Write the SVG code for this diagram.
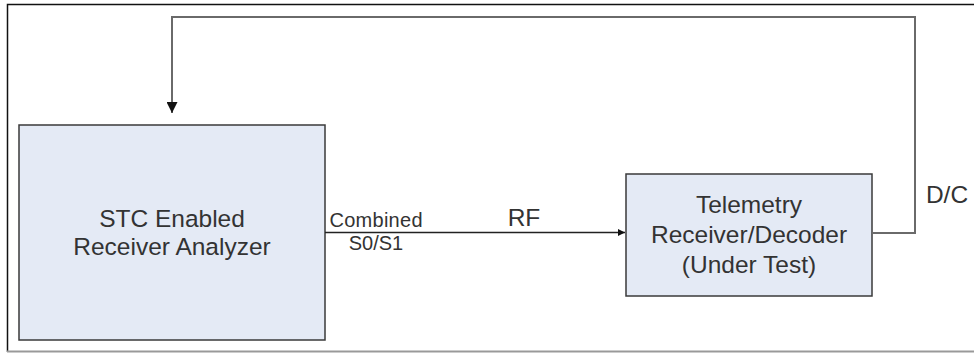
<svg xmlns="http://www.w3.org/2000/svg" width="974" height="353" viewBox="0 0 974 353">
<style>
.box{fill:#e4eaf5;stroke:#3a3a3a;stroke-width:1.5}
.t{font-family:"Liberation Sans",Arial,sans-serif;fill:#333;text-anchor:middle}
.big{font-size:24.5px}
.small{font-size:20px}
.con{fill:none;stroke:#222;stroke-width:1.5}
.loop{fill:none;stroke:#6a6a6a;stroke-width:2}
</style>
<defs>
<marker id="ah" viewBox="0 0 10 10" refX="10" refY="5" markerWidth="7" markerHeight="7" markerUnits="userSpaceOnUse" orient="auto">
<path d="M0,0 L10,5 L0,10 z" fill="#111"/>
</marker>
<marker id="ah2" viewBox="0 0 10 10" refX="10" refY="5" markerWidth="11" markerHeight="11" markerUnits="userSpaceOnUse" orient="auto">
<path d="M0,0 L10,5 L0,10 z" fill="#111"/>
</marker>
</defs>
<rect x="0" y="0" width="974" height="353" fill="#fff"/>
<path d="M7.5,352 V4.5 H980" fill="none" stroke="#111" stroke-width="1.5"/>
<line x1="7" y1="351.5" x2="974" y2="351.5" stroke="#999" stroke-width="2"/>
<g id="analyzer">
<rect class="box" x="19" y="125" width="306" height="215"/>
<text class="t big" x="172" y="227">STC Enabled</text>
<text class="t big" x="172" y="255">Receiver Analyzer</text>
</g>
<g id="telemetry">
<rect class="box" x="626" y="174" width="246" height="122"/>
<text class="t big" x="749" y="213">Telemetry</text>
<text class="t big" x="749" y="243">Receiver/Decoder</text>
<text class="t big" x="749" y="273">(Under Test)</text>
</g>
<g id="connectors">
<path class="con" d="M325,232.5 H625" marker-end="url(#ah)"/>
<path class="loop" d="M872,233 H915 V17 H172 V113" marker-end="url(#ah2)"/>
</g>
<g id="labels">
<text class="t small" x="376" y="227" textLength="93" lengthAdjust="spacing">Combined</text>
<text class="t small" x="376" y="250">S0/S1</text>
<text class="t big" x="524" y="226">RF</text>
<text class="t big" x="947" y="203">D/C</text>
</g>
</svg>
